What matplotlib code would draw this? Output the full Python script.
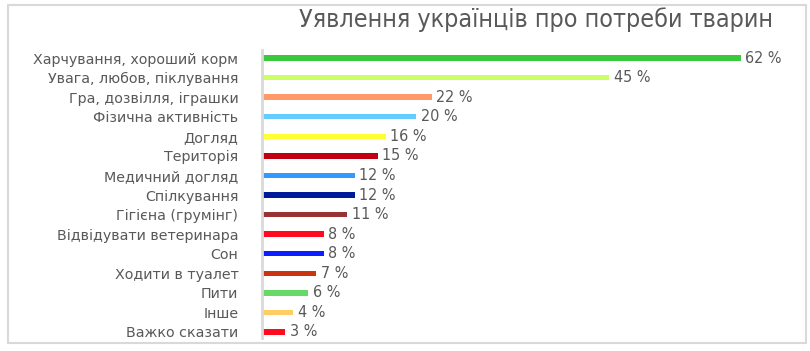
import matplotlib.pyplot as plt
from matplotlib.patches import Rectangle

categories = [
    'Харчування, хороший корм', 'Увага, любов, піклування', 'Гра, дозвілля, іграшки',
    'Фізична активність', 'Догляд', 'Територія', 'Медичний догляд', 'Спілкування',
    'Гігієна (грумінг)', 'Відвідувати ветеринара', 'Сон', 'Ходити в туалет',
    'Пити', 'Інше', 'Важко сказати',
]
values = [62, 45, 22, 20, 16, 15, 12, 12, 11, 8, 8, 7, 6, 4, 3]
colors = [
    '#3cc83c', '#ccff66', '#ff9966', '#66ccff', '#ffff33', '#c00010', '#3399ff',
    '#001a99', '#993333', '#ff0a1e', '#0a1eff', '#cc3311', '#66d966', '#ffcc66', '#ff0a1e',
]

W, H = 810, 351
TXT = '#595959'
plt.rcParams['font.family'] = ['DejaVu Sans']

fig = plt.figure(figsize=(W / 100, H / 100), dpi=100)

# рамка навколо діаграми
fig.patches.append(Rectangle((8 / W, 1 - 343 / H), 798 / W, 338 / H, transform=fig.transFigure,
                             fill=False, edgecolor='#d9d9d9', linewidth=1.5))

# осі в піксельних координатах
left, right, top, bottom = 262, 790, 50, 338
ax = fig.add_axes([left / W, 1 - bottom / H, (right - left) / W, (bottom - top) / H])

px_x = 7.72
px_y = 19.57
ax.set_xlim(0, (right - left) / px_x)
ax.set_ylim(14 + (bottom - 332) / px_y, -(58 - top) / px_y)

y = list(range(len(categories)))
ax.barh(y, values, height=5.5 / px_y, color=colors, linewidth=0)
for yi, v in zip(y, values):
    ax.text(v + 0.6, yi, f'{v} %', va='center', ha='left', fontsize=11.5, color=TXT,
            stretch='condensed')

ax.set_yticks(y)
ax.set_yticklabels(categories, fontsize=10.3, color=TXT)
ax.tick_params(axis='y', length=0, pad=17)
ax.set_xticks([])
for s in ['top', 'right', 'bottom']:
    ax.spines[s].set_visible(False)
ax.spines['left'].set_color('#d9d9d9')
ax.spines['left'].set_linewidth(2)

fig.text(773 / W, 1 - 20 / H, 'Уявлення українців про потреби тварин', ha='right', va='center',
         fontsize=18, color=TXT, stretch='condensed')

fig.savefig('out.png', dpi=100)
